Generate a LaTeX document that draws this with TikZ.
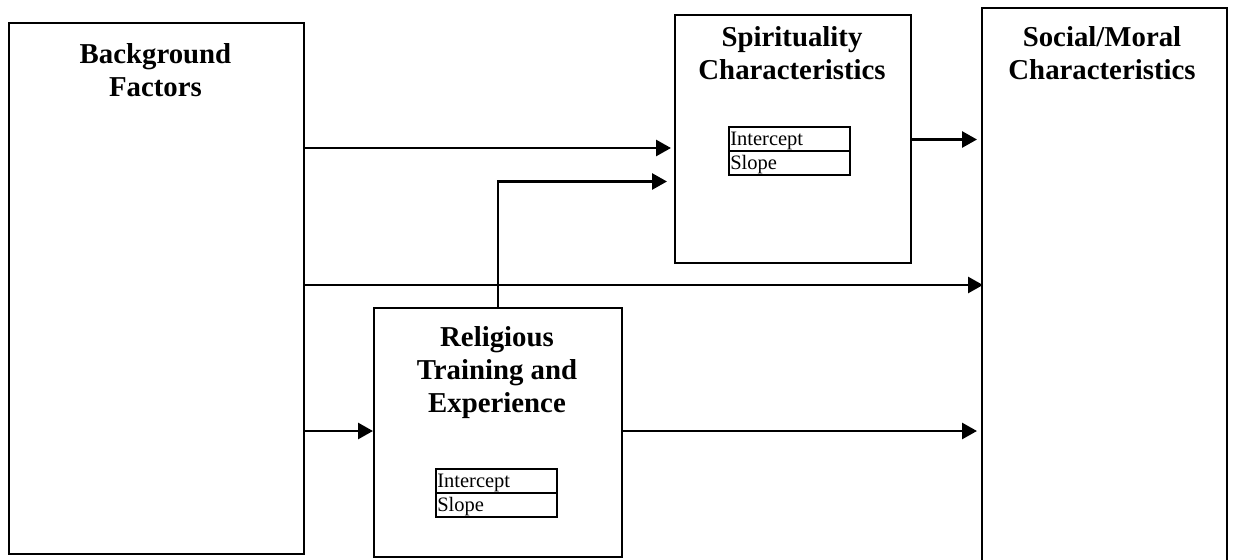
\documentclass[tikz,border=0pt]{standalone}
\usepackage{fontspec}
\setmainfont{Liberation Serif}
\usetikzlibrary{arrows.meta}
\begin{document}
\begin{tikzpicture}[x=1pt,y=-1pt,
  box/.style={draw,line width=2pt,anchor=north west,inner sep=0pt},
  title/.style={font=\fontsize{28.8}{33}\selectfont\bfseries,align=center,anchor=base,inner sep=0pt},
  cell/.style={draw,line width=1.6pt,anchor=north west,minimum width=121pt,minimum height=24pt,
    text width=118pt,align=left,inner xsep=1.5pt,inner ysep=2pt,text height=17pt,text depth=3pt,
    font=\fontsize{20.5}{22}\selectfont},
  arr/.style={line width=2.8pt,-{Triangle[length=15pt,width=16pt]}}]
\useasboundingbox (0,0) rectangle (1233,559);
\clip (0,0) rectangle (1233,559);

% main boxes
\node[box,minimum width=295pt,minimum height=531pt] (bg) at (8,22) {};
\node[box,minimum width=236pt,minimum height=248pt] (sp) at (674,14) {};
\node[box,minimum width=248pt,minimum height=249pt] (rel) at (373,307) {};
\node[box,minimum width=245pt,minimum height=570pt] (soc) at (981,7) {};

% box titles (anchored at the baseline of the last line)
\node[title] (bgT) at (155.5,97) {Background\\Factors};
\node[title] (spT) at (792,80) {Spirituality\\Characteristics};
\node[title] (socT) at (1102,80) {Social/Moral\\Characteristics};
\node[title] (relT) at (497,412) {Religious\\Training and\\Experience};

% intercept / slope tables
\node[cell] (spI) at (728,126) {Intercept};
\node[cell] (spS) at (728,150) {Slope};
\node[cell] (relI) at (435,468) {Intercept};
\node[cell] (relS) at (435,492) {Slope};

% paths between the boxes
\coordinate (yA) at (0,148);
\coordinate (yB) at (0,181.5);
\coordinate (yC) at (0,285);
\coordinate (yD) at (0,431);
\coordinate (yE) at (0,139.5);
\draw[arr] (bg.east |- yA) -- ([xshift=-3pt]sp.west |- yA);
\draw[arr] (rel.north) |- ([xshift=-7pt]sp.west |- yB);
\draw[arr] (bg.east |- yC) -- ([xshift=2pt]soc.west |- yC);
\draw[arr] (bg.east |- yD) -- (rel.west |- yD);
\draw[arr] (rel.east |- yD) -- ([xshift=-4pt]soc.west |- yD);
\draw[arr] (sp.east |- yE) -- ([xshift=-4pt]soc.west |- yE);
\end{tikzpicture}
\end{document}
